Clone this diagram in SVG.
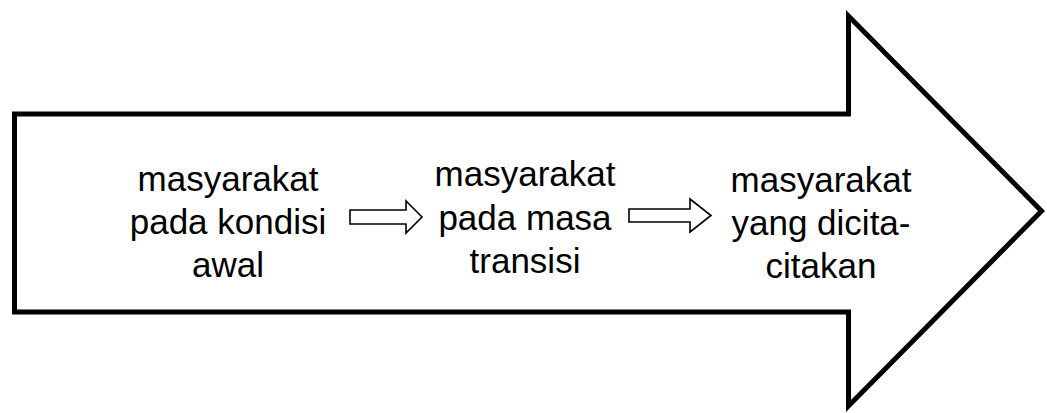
<svg xmlns="http://www.w3.org/2000/svg" width="1047" height="413" viewBox="0 0 1047 413">
  <style>
    .big { fill: #ffffff; stroke: #000000; stroke-width: 5; stroke-linejoin: miter; stroke-miterlimit: 10; }
    .small { fill: #ffffff; stroke: #000000; stroke-width: 1.6; stroke-linejoin: miter; }
    .label { font-family: "Liberation Sans", Arial, sans-serif; font-size: 35px; fill: #000000; text-anchor: middle; }
  </style>
  <rect width="1047" height="413" fill="#ffffff"/>

  <!-- large block arrow background -->
  <g id="block-arrow">
    <polygon class="big" points="14.5,114 848.5,114 848.5,16 1041.5,211 848.5,406 848.5,312 14.5,312"/>
  </g>

  <!-- stages -->
  <g id="stage-initial">
    <text class="label" x="228" y="191">masyarakat</text>
    <text class="label" x="228" y="234">pada kondisi</text>
    <text class="label" x="228" y="277">awal</text>
  </g>
  <g id="stage-transition">
    <text class="label" x="525" y="186">masyarakat</text>
    <text class="label" x="525" y="230">pada masa</text>
    <text class="label" x="525" y="273">transisi</text>
  </g>
  <g id="stage-goal">
    <text class="label" x="821" y="192">masyarakat</text>
    <text class="label" x="821" y="235">yang dicita-</text>
    <text class="label" x="821" y="278">citakan</text>
  </g>

  <!-- connectors between stages -->
  <g id="connectors">
    <polygon class="small" points="350,210 406,210 406,201 422,217 406,233 406,224 350,224"/>
    <polygon class="small" points="629,209 690,209 690,199 711,215.5 690,232 690,222 629,222"/>
  </g>
</svg>
